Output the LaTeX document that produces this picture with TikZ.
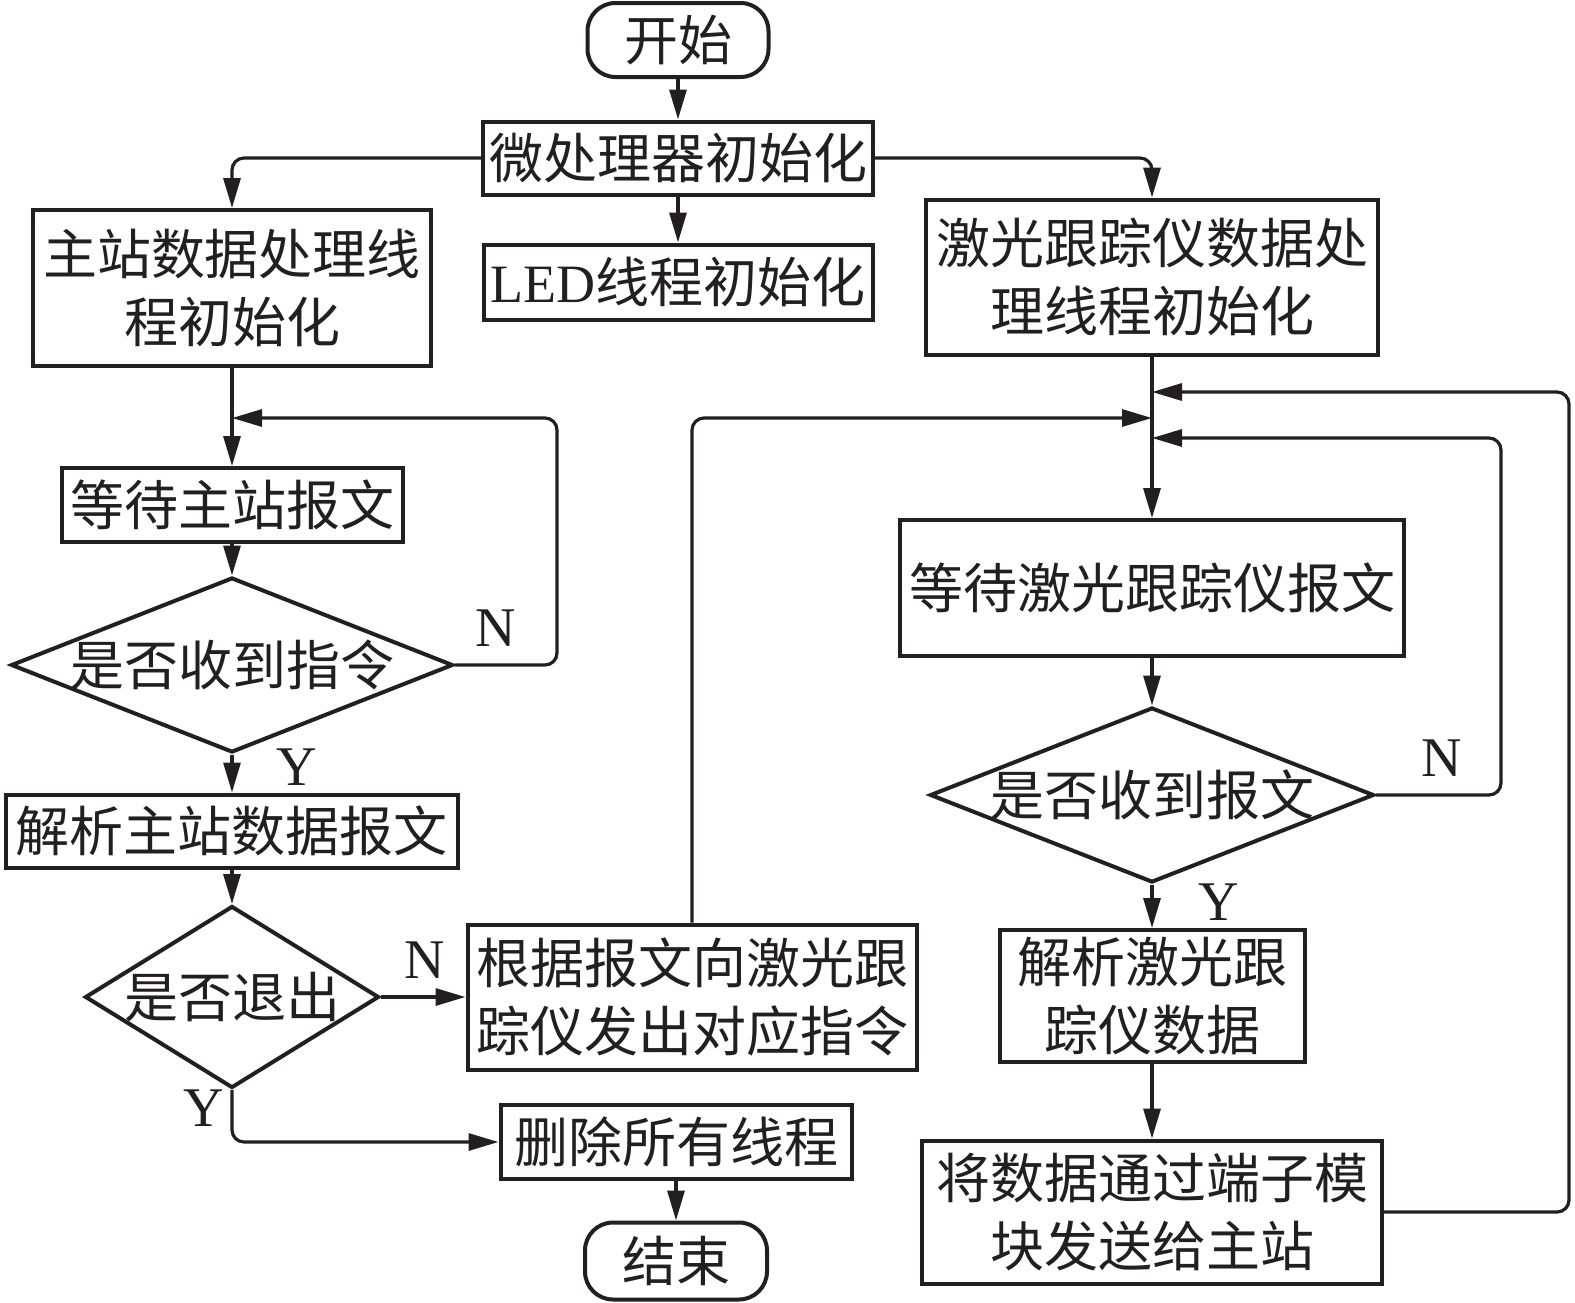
\documentclass[tikz,border=0pt]{standalone}
\usepackage{fontspec}
\setmainfont{Liberation Serif}
\newfontfamily\cjk{Noto Sans CJK SC}
\usepackage{tikz}
\usetikzlibrary{shapes.geometric,arrows.meta}
\definecolor{ink}{HTML}{231F20}

\begin{document}
\begin{tikzpicture}[x=0.5pt,y=-0.5pt,>={Triangle[length=15pt,width=8.5pt]}]
  \tikzstyle{every node}=[font=\cjk\fontsize{27}{34}\selectfont,text=ink,align=center]
  \tikzstyle{proc}=[rectangle,draw=ink,line width=2pt,inner sep=0pt]
  \tikzstyle{term}=[proc,rounded corners=14pt]
  \tikzstyle{test}=[diamond,draw=ink,line width=2pt,inner sep=-2pt]
  \tikzstyle{yn}=[font=\rmfamily\fontsize{28}{28}\selectfont,inner sep=0pt]
  \tikzstyle{line}=[draw=ink,line width=1.6pt,rounded corners=6pt]
  \useasboundingbox (0,0) rectangle (1575,1302);
  % middle column
  \node[term,minimum width=90.5pt,minimum height=37pt] (start) at (678,40) {开始};
  \node[proc,minimum width=195pt,minimum height=36.5pt] (micro) at (678,158) {微处理器初始化};
  \node[proc,minimum width=194.5pt,minimum height=37.5pt] (led) at (678,282) {{\rmfamily LED}线程初始化};
  \node[proc,minimum width=224.5pt,minimum height=72.5pt] (send) at (692,997) {根据报文向激光跟\\踪仪发出对应指令};
  \node[proc,minimum width=175.5pt,minimum height=37pt] (del) at (676,1142) {删除所有线程};
  \node[term,minimum width=91pt,minimum height=38.5pt] (end) at (676,1261) {结束};
  % master station thread
  \node[proc,minimum width=199pt,minimum height=78pt] (mst) at (232,288) {主站数据处理线\\程初始化};
  \coordinate (mj) at (232,418);
  \node[proc,minimum width=170.5pt,minimum height=37pt] (mwait) at (232,505) {等待主站报文};
  \node[test,aspect=2.53,minimum width=221pt,minimum height=87.5pt] (mdec) at (232,665) {是否收到指令};
  \node[proc,minimum width=226pt,minimum height=36.5pt] (mparse) at (232,831) {解析主站数据报文};
  \node[test,aspect=1.62,minimum width=147pt,minimum height=91pt] (mexit) at (232,997) {是否退出};
  % laser tracker thread
  \node[proc,minimum width=226pt,minimum height=77.5pt] (lt) at (1152,277) {激光跟踪仪数据处\\理线程初始化};
  \coordinate (tj1) at (1152,392);
  \coordinate (tj2) at (1152,418);
  \coordinate (tj3) at (1152,438);
  \node[proc,minimum width=252pt,minimum height=68pt] (tw) at (1152,588) {等待激光跟踪仪报文};
  \node[test,aspect=2.54,minimum width=222pt,minimum height=87.5pt] (tdec) at (1152,795) {是否收到报文};
  \node[proc,minimum width=152.5pt,minimum height=66pt] (tparse) at (1152,996) {解析激光跟\\踪仪数据};
  \node[proc,minimum width=230pt,minimum height=71.5pt] (tfwd) at (1152,1212) {将数据通过端子模\\块发送给主站};
  % branch labels
  \node[yn] (mn) at (496,628) {N};
  \node[yn] (my) at (297,767) {Y};
  \node[yn] (xn) at (425,960) {N};
  \node[yn] (xy) at (204,1108) {Y};
  \node[yn] (tn) at (1442,758) {N};
  \node[yn] (ty) at (1219,902) {Y};
  % connectors
  \draw[line,->] (start) -- (micro);
  \draw[line,->] (micro) -- (led);
  \draw[line,->] (micro.west) -| (mst.north);
  \draw[line,->] (micro.east) -| (lt.north);
  \draw[line,->] (mst) -- (mwait);
  \draw[line,->] (mwait) -- (mdec);
  \draw[line,->] (mdec.east) -- ++(102,0) |- (mj);
  \draw[line,->] (mdec) -- (mparse);
  \draw[line,->] (mparse) -- (mexit);
  \draw[line,->] (mexit) -- (send);
  \draw[line,->] (mexit.south) |- (del.west);
  \draw[line,->] (del) -- (end);
  \draw[line,->] (send.north) |- (tj2);
  \draw[line,->] (lt) -- (tw);
  \draw[line,->] (tdec.east) -- ++(125,0) |- (tj3);
  \draw[line,->] (tw) -- (tdec);
  \draw[line,->] (tdec) -- (tparse);
  \draw[line,->] (tparse) -- (tfwd);
  \draw[line,->] (tfwd.east) -- ++(185,0) |- (tj1);
\end{tikzpicture}
\end{document}
